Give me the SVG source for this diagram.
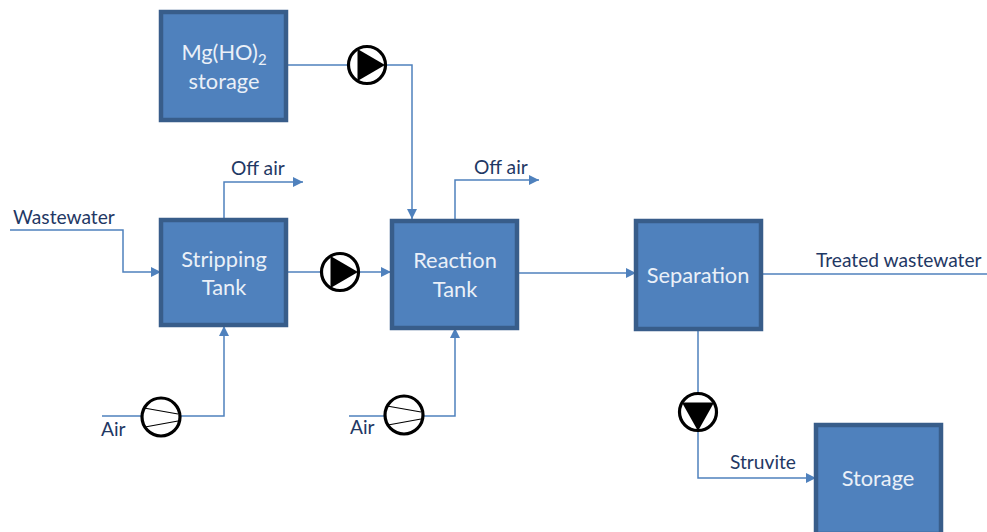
<svg xmlns="http://www.w3.org/2000/svg" width="987" height="532" viewBox="0 0 987 532">
<style>
.box{fill:#4f81bd;stroke:#385d8a;stroke-width:4.500}
.in{font-family:Lato,"Liberation Sans",sans-serif;font-size:21.800px;fill:#eaf0f8;text-anchor:middle}
.lb{font-family:Lato,"Liberation Sans",sans-serif;font-size:19.200px;fill:#1f3864}
.ln{fill:none;stroke:#4f81bd;stroke-width:1.500}
.pc{fill:#fff;stroke:#000;stroke-width:3.200}
.thin{fill:none;stroke:#000;stroke-width:1.200}
</style>
<defs>
<marker id="a" markerUnits="userSpaceOnUse" markerWidth="12" markerHeight="12" refX="10" refY="6" orient="auto"><path d="M0 1L10 6L0 11Z" fill="#4f81bd"/></marker>
</defs>
<g id="connectors">
<path class="ln" d="M288 65H412V219" marker-end="url(#a)"/>
<path class="ln" d="M10 230H123V272H161" marker-end="url(#a)"/>
<path class="ln" d="M224 218V182H303" marker-end="url(#a)"/>
<path class="ln" d="M288 272H391" marker-end="url(#a)"/>
<path class="ln" d="M455 219V180H539" marker-end="url(#a)"/>
<path class="ln" d="M519 273H636" marker-end="url(#a)"/>
<path class="ln" d="M762 274H987"/>
<path class="ln" d="M102 416H224V326" marker-end="url(#a)"/>
<path class="ln" d="M349 416H455V328" marker-end="url(#a)"/>
<path class="ln" d="M698 330V478H816" marker-end="url(#a)"/>
</g>
<g id="mg-storage"><rect class="box" x="161" y="12" width="125" height="108"/><text class="in" x="224" y="60">Mg(HO)<tspan font-size="15" dy="5">2</tspan></text><text class="in" x="224" y="89">storage</text></g>
<g id="stripping-tank"><rect class="box" x="161" y="220" width="125" height="105"/><text class="in" x="224" y="267">Stripping</text><text class="in" x="224" y="295">Tank</text></g>
<g id="reaction-tank"><rect class="box" x="392" y="221" width="125" height="107"/><text class="in" x="455" y="268">Reaction</text><text class="in" x="455" y="297">Tank</text></g>
<g id="separation"><rect class="box" x="636" y="221" width="125" height="108"/><text class="in" x="698" y="283">Separation</text></g>
<g id="storage"><rect class="box" x="816" y="425" width="125" height="109"/><text class="in" x="878" y="486">Storage</text></g>
<g id="pump-1"><circle class="pc" cx="367" cy="65" r="18.500"/><path d="M357.500 49L385 65L357.500 81Z"/></g>
<g id="pump-2"><circle class="pc" cx="340" cy="272" r="18.500"/><path d="M330.500 256L358 272L330.500 288Z"/></g>
<g id="pump-3"><circle class="pc" cx="698" cy="412" r="18.500"/><path d="M682 402.500L714 402.500L698 431Z"/></g>
<g id="blower-1"><circle class="pc" cx="161" cy="417" r="19"/><path class="thin" d="M144 408L178 414M145 427L178 421"/></g>
<g id="blower-2"><circle class="pc" cx="404" cy="415" r="19"/><path class="thin" d="M387 406L421 412M388 425L421 419"/></g>
<g id="labels">
<text class="lb" x="13" y="224">Wastewater</text>
<text class="lb" x="231" y="175">Off air</text>
<text class="lb" x="474" y="174">Off air</text>
<text class="lb" x="816" y="267">Treated wastewater</text>
<text class="lb" x="101" y="436">Air</text>
<text class="lb" x="350" y="434">Air</text>
<text class="lb" x="730" y="469">Struvite</text>
</g>
</svg>
